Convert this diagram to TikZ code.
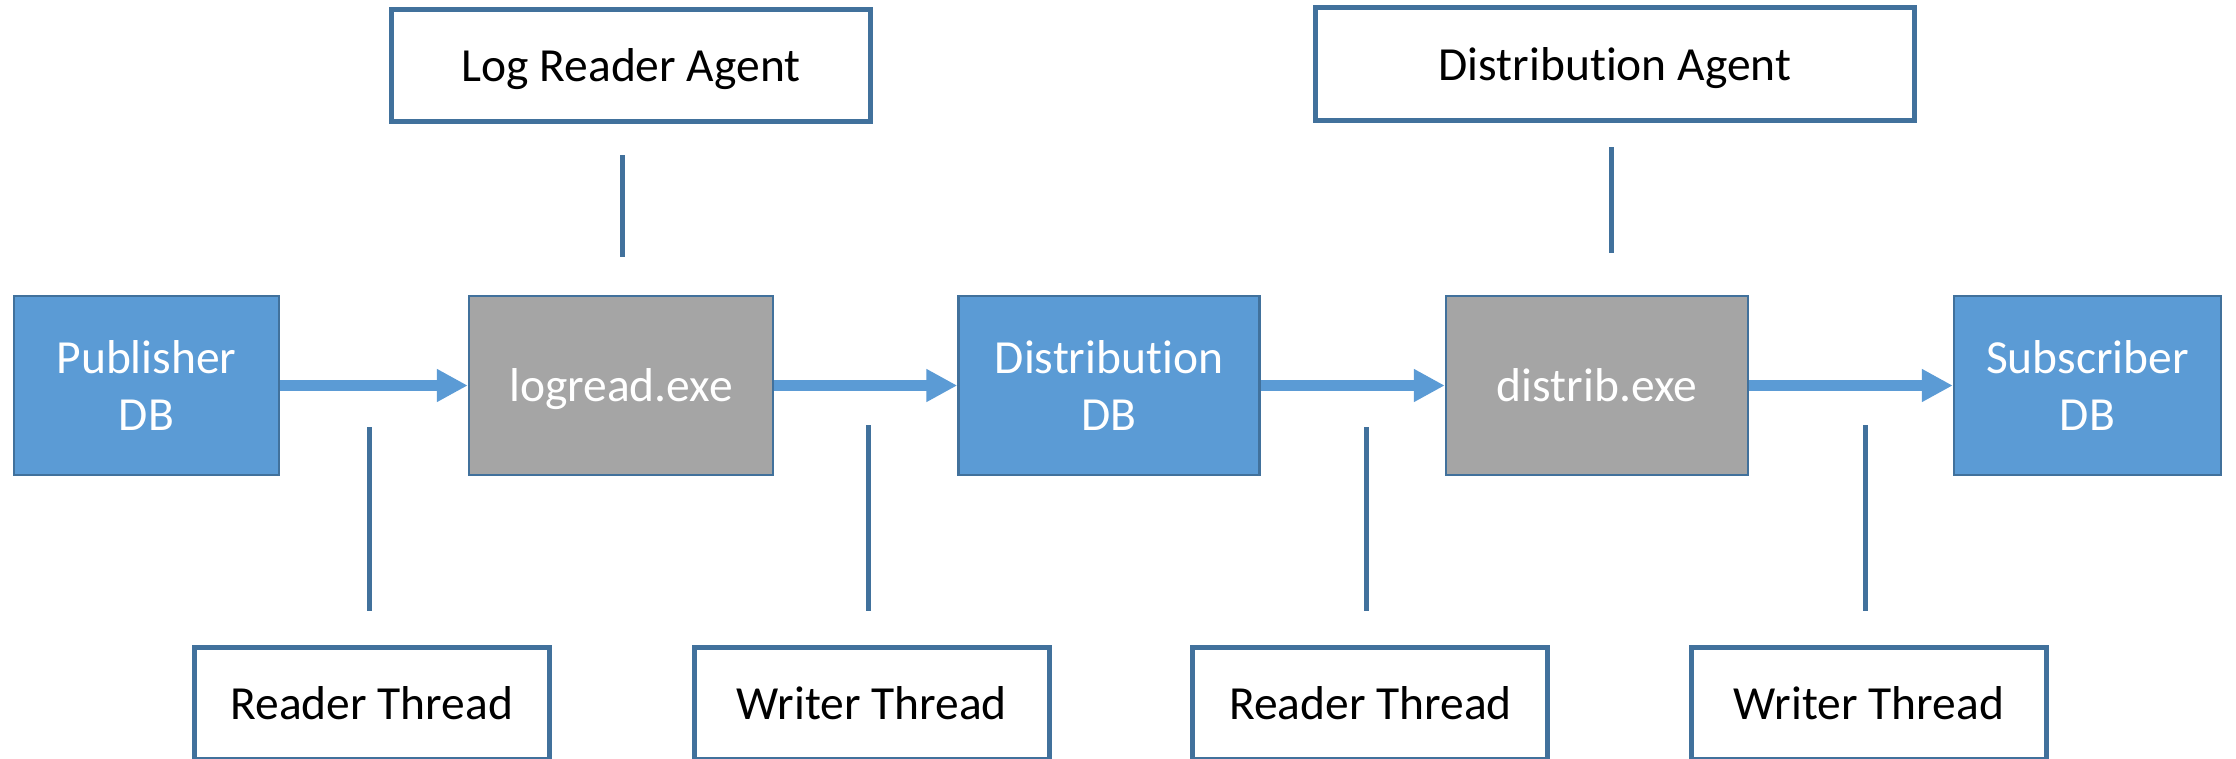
\documentclass[tikz,border=0pt]{standalone}
\usepackage{fontspec}
\setmainfont[Ligatures=NoCommon]{Carlito}
\usetikzlibrary{arrows.meta}
\definecolor{dbblue}{HTML}{5B9BD5}
\definecolor{edgeblue}{HTML}{41719C}
\definecolor{exegray}{HTML}{A5A5A5}
\begin{document}
\begin{tikzpicture}[x=1pt,y=-1pt,
  txt/.style={inner sep=0pt, align=center, font=\fontsize{47.5}{57}\selectfont},
  oneline/.style={text height=45.2pt, text depth=12.8pt},
  dbbox/.style={txt, draw=edgeblue, line width=2.5pt, fill=dbblue, text=white},
  exebox/.style={txt, oneline, draw=edgeblue, line width=2.5pt, fill=exegray, text=white},
  agentbox/.style={txt, oneline, draw=edgeblue, line width=5pt, fill=white, text=black},
  flow/.style={dbblue, line width=10.7pt, -{Triangle[length=31pt,width=31pt]}},
  link/.style={edgeblue, line width=5pt}]
\fill[white] (0,0) rectangle (2236,758);
\useasboundingbox (0,0) rectangle (2236,758);
% main chain
\node[dbbox, minimum width=265pt, minimum height=179pt] (pub) at (146.5,385.5) {Publisher\\DB};
\node[exebox, minimum width=304pt, minimum height=179pt] (logread) at (621,385.5) {logread.exe};
\node[dbbox, minimum width=301pt, minimum height=179pt] (distdb) at (1109,385.5) {Distribution\\DB};
\node[exebox, minimum width=302pt, minimum height=179pt] (distrib) at (1597,385.5) {distrib.exe};
\node[dbbox, minimum width=267pt, minimum height=179pt] (sub) at (2087.5,385.5) {Subscriber\\DB};
% agents
\node[agentbox, minimum width=479pt, minimum height=112pt] (lra) at (631,65.5) {Log Reader Agent};
\node[agentbox, minimum width=599pt, minimum height=112.5pt] (da) at (1615,64) {Distribution Agent};
% threads
\node[agentbox, minimum width=355pt, minimum height=112pt] (rt1) at (371.7,703.5) {Reader Thread};
\node[agentbox, minimum width=355pt, minimum height=112pt] (wt1) at (871.7,703.5) {Writer Thread};
\node[agentbox, minimum width=355pt, minimum height=112pt] (rt2) at (1370.4,703.5) {Reader Thread};
\node[agentbox, minimum width=355pt, minimum height=112pt] (wt2) at (1869,703.5) {Writer Thread};
% flow arrows
\draw[flow] (pub.east) -- (logread.west);
\draw[flow] (logread.east) -- (distdb.west);
\draw[flow] (distdb.east) -- (distrib.west);
\draw[flow] (distrib.east) -- (sub.west);
% link lines
\coordinate (l1a) at (622,155);  \coordinate (l1b) at (622,257);
\coordinate (l2a) at (1611,147); \coordinate (l2b) at (1611,253);
\coordinate (l3a) at (369,427);  \coordinate (l3b) at (369,611);
\coordinate (l4a) at (868,425);  \coordinate (l4b) at (868,611);
\coordinate (l5a) at (1366,427); \coordinate (l5b) at (1366,611);
\coordinate (l6a) at (1865,425); \coordinate (l6b) at (1865,611);
\draw[link] (l1a) -- (l1b);
\draw[link] (l2a) -- (l2b);
\draw[link] (l3a) -- (l3b);
\draw[link] (l4a) -- (l4b);
\draw[link] (l5a) -- (l5b);
\draw[link] (l6a) -- (l6b);
\end{tikzpicture}
\end{document}
